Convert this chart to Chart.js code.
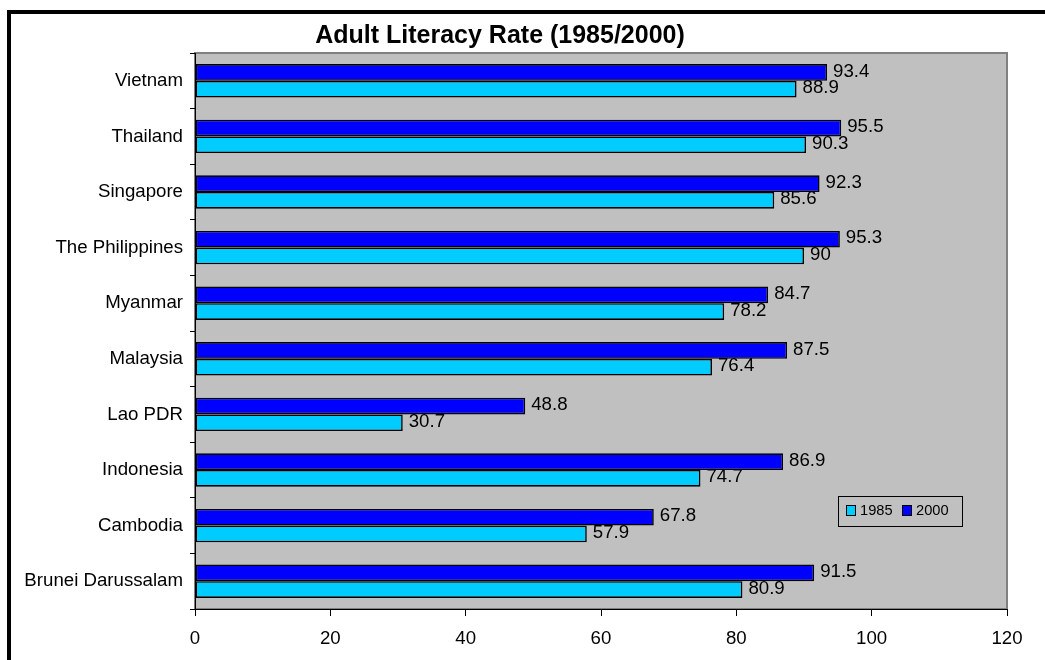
<!DOCTYPE html>
<html lang="en">
<head>
  <meta charset="UTF-8">
  <title>Adult Literacy Rate (1985/2000)</title>
  <script src="https://cdn.jsdelivr.net/npm/chart.js"></script>
  <style>
    html, body { margin:0; padding:0; background:#fff; overflow:hidden; }
    #wrap { position:relative; width:1045px; height:660px; }
    #chart { position:absolute; left:0; top:0; }
    #frame {
      position:absolute; left:7px; top:10px; width:1100px; height:700px;
      border:4px solid #000; pointer-events:none;
    }
  </style>
</head>
<body>
  <div id="wrap">
    <canvas id="chart" width="1045" height="660"></canvas>
    <div id="frame"></div>
  </div>

  <script>
    const countries = ['Vietnam', 'Thailand', 'Singapore', 'The Philippines', 'Myanmar',
                       'Malaysia', 'Lao PDR', 'Indonesia', 'Cambodia', 'Brunei Darussalam'];
    const rate2000 = [93.4, 95.5, 92.3, 95.3, 84.7, 87.5, 48.8, 86.9, 67.8, 91.5];
    const rate1985 = [88.9, 90.3, 85.6, 90, 78.2, 76.4, 30.7, 74.7, 57.9, 80.9];
    const xTicks = [0, 20, 40, 60, 80, 100, 120];
    const titleText = 'Adult Literacy Rate (1985/2000)';

    const FONT = "'Liberation Sans', Arial, sans-serif";
    const col1985 = '#00CCFF';
    const col2000 = '#0000FF';

    Chart.defaults.font.family = FONT;
    Chart.defaults.font.size = 18.67;
    Chart.defaults.color = '#000';

    // grey plot area + title + legend + value labels
    const decor = {
      id: 'decor',
      beforeDraw(chart) {
        const { ctx, chartArea: a } = chart;
        ctx.save();
        ctx.fillStyle = '#C0C0C0';
        ctx.fillRect(a.left, a.top, a.right - a.left, a.bottom - a.top);
        ctx.strokeStyle = '#808080';
        ctx.lineWidth = 2;
        ctx.strokeRect(a.left, a.top, a.right - a.left, a.bottom - a.top);

        ctx.fillStyle = '#000';
        ctx.font = 'bold 25px ' + FONT;
        ctx.textAlign = 'center';
        ctx.textBaseline = 'middle';
        ctx.fillText(titleText, 500, 36);
        ctx.restore();
      },
      afterDatasetsDraw(chart) {
        const { ctx } = chart;
        ctx.save();
        ctx.font = '18.67px ' + FONT;
        ctx.fillStyle = '#000';
        ctx.textAlign = 'left';
        ctx.textBaseline = 'middle';
        chart.data.datasets.forEach((ds, di) => {
          chart.getDatasetMeta(di).data.forEach((bar, i) => {
            ctx.fillText(String(ds.data[i]), bar.x + 6, bar.y - 1);
          });
        });

        // legend box
        const lx = 838, ly = 496, lw = 124, lh = 30;
        ctx.strokeStyle = '#000';
        ctx.lineWidth = 1;
        ctx.strokeRect(lx + 0.5, ly + 0.5, lw, lh);
        ctx.font = '14.67px ' + FONT;
        const items = [{ t: '1985', c: col1985, x: lx + 8 }, { t: '2000', c: col2000, x: lx + 64 }];
        items.forEach(it => {
          ctx.fillStyle = it.c;
          ctx.fillRect(it.x, ly + 9, 9, 10);
          ctx.strokeRect(it.x + 0.5, ly + 9.5, 9, 10);
          ctx.fillStyle = '#000';
          ctx.fillText(it.t, it.x + 14, ly + 15);
        });
        ctx.restore();
      }
    };

    new Chart(document.getElementById('chart').getContext('2d'), {
      type: 'bar',
      data: {
        labels: countries,
        datasets: [
          { label: '2000', data: rate2000, backgroundColor: col2000, borderColor: '#000',
            borderWidth: 1.6, borderSkipped: false, categoryPercentage: 0.6, barPercentage: 1.0 },
          { label: '1985', data: rate1985, backgroundColor: col1985, borderColor: '#000',
            borderWidth: 1.6, borderSkipped: false, categoryPercentage: 0.6, barPercentage: 1.0 }
        ]
      },
      options: {
        indexAxis: 'y',
        responsive: false,
        animation: false,
        layout: { padding: { top: 53, right: 38, left: 0, bottom: 0 } },
        plugins: {
          legend: { display: false },
          title: { display: false },
          tooltip: { enabled: false }
        },
        scales: {
          x: {
            min: 0, max: 120,
            afterBuildTicks: s => { s.ticks = xTicks.map(v => ({ value: v })); },
            afterFit: s => { s.height = 51; },
            ticks: { padding: 12, font: { size: 18.67 }, color: '#000' },
            grid: { drawOnChartArea: false, drawTicks: true, tickLength: 7, color: '#000' },
            border: { display: true, color: '#000', width: 1 }
          },
          y: {
            afterFit: s => { s.width = 195; },
            ticks: { padding: 7, font: { size: 18.67 }, color: '#000' },
            grid: { offset: true, drawOnChartArea: false, drawTicks: true, tickLength: 5, color: '#000' },
            border: { display: true, color: '#000', width: 1 }
          }
        }
      },
      plugins: [decor]
    });
  </script>
</body>
</html>
